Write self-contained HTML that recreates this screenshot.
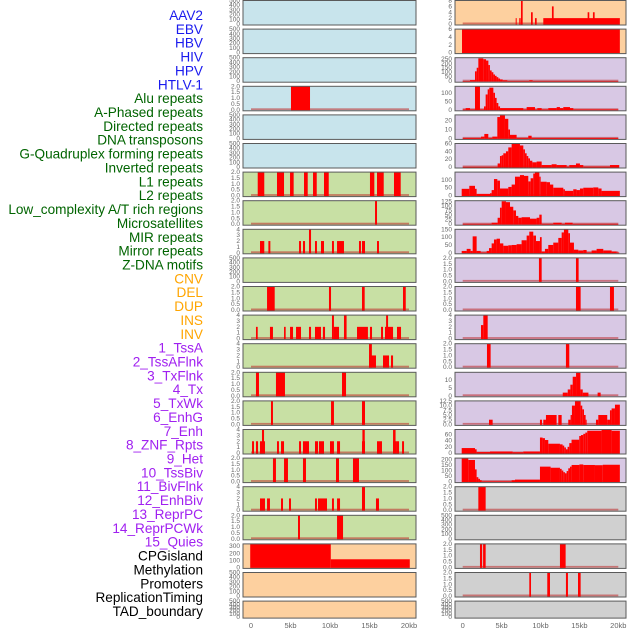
<!DOCTYPE html>
<html><head><meta charset="utf-8"><style>
html,body{margin:0;padding:0;background:#fff;}
svg{display:block;font-family:"Liberation Sans",sans-serif;}
</style></head><body>
<svg id="chart" width="630" height="630" viewBox="0 0 630 630"></svg>
<script>
// ---------- data (kb start, kb end, value) ----------
const leftNames = ["AAV2","EBV","HBV","HIV","HPV","HTLV-1","Alu repeats","A-Phased repeats","Directed repeats","DNA transposons","G-Quadruplex forming repeats","Inverted repeats","L1 repeats","L2 repeats","Low_complexity A/T rich regions","Microsatellites","MIR repeats","Mirror repeats","Z-DNA motifs","CNV","DEL","DUP"];
const rightNames = ["INS","INV","1_TssA","2_TssAFlnk","3_TxFlnk","4_Tx","5_TxWk","6_EnhG","7_Enh","8_ZNF_Rpts","9_Het","10_TssBiv","11_BivFlnk","12_EnhBiv","13_ReprPC","14_ReprPCWk","15_Quies","CPGisland","Methylation","Promoters","ReplicationTiming","TAD_boundary"];
const labelColors = {virus:"#1a1aee",repeat:"#006400",sv:"#ffa500",chrom:"#a020f0",other:"#000000"};
const xTickLabels = ["0","5kb","10kb","15kb","20kb"];
const xTickValues = [0,5,10,15,20];

const HIV = [[5.06,7.47,2]];
const Alu = [[0.85,1.68,2],[3.29,4.18,2],[4.94,5.4,2],[6.71,7.18,2],[7.85,8.32,2],[9.24,9.84,2],[15.06,15.61,2],[15.95,16.8,2],[18.1,18.95,2]];
const APhased = [[15.7,15.95,2]];
const Directed = [[1.14,1.68,2],[2.2,2.45,2],[6.08,6.33,2],[6.58,6.84,2],[7.34,7.6,4],[8.1,8.35,2],[8.86,9.24,2],[10.25,10.5,2],[10.89,11.77,2],[13.67,13.92,2],[14.05,14.43,2],[15.95,16.2,2]];
const GQuad = [[2.03,3.0,2],[9.87,10.13,2],[14.05,14.39,2],[19.24,19.59,2]];
const Inverted = [[0.63,0.85,2],[2.4,2.78,2],[4.18,4.39,2],[4.94,5.32,2],[5.7,6.33,2],[7.34,7.6,2],[8.1,8.86,2],[9.1,9.37,2],[10.25,10.5,4],[10.5,11.14,2],[11.77,12.1,4],[13.42,14.8,2],[15.06,15.32,2],[16.46,16.71,2],[16.96,17.98,2],[17.1,17.35,4],[18.48,18.99,2]];
const L1 = [[14.94,15.82,2],[14.94,15.3,4],[16.71,17.47,2],[17.72,17.98,2]];
const L2 = [[0.63,1.01,2],[3.16,4.3,2],[11.52,12.03,2]];
const LowComplexity = [[2.53,2.78,2],[10.13,10.5,2],[14.05,14.43,2]];
const Micro = [[0.13,0.38,2],[0.63,0.89,2],[1.14,1.77,2],[1.39,1.65,4],[3.29,3.54,2],[3.8,4.18,2],[6.08,6.33,2],[6.58,7.34,2],[8.1,8.48,2],[8.6,9.24,2],[10.0,10.5,2],[10.89,11.27,2],[14.05,14.43,2],[14.1,14.4,4],[15.95,16.58,2],[17.98,18.36,2],[17.98,18.3,4],[18.36,18.74,2],[19.12,19.37,2]];
const MIR = [[2.78,3.16,2],[4.18,4.68,2],[6.58,6.96,2],[10.76,11.14,2],[12.91,13.67,2]];
const Mirror = [[1.14,1.77,2],[2.03,2.4,2],[3.8,4.05,2],[4.81,5.06,2],[8.1,8.35,2],[8.48,9.62,2],[10.25,10.5,2],[10.89,11.27,2],[14.05,14.43,4],[15.82,16.2,2]];
const ZDNA = [[5.95,6.2,2],[10.89,11.65,2]];
const CNV = [[-0.1,10.1,333],[10.1,20.1,115]];

const INS = [[6.81,6.94,2],[7.27,7.45,2],[7.49,7.71,8],[8.78,9.0,4],[9.29,9.51,2],[10.36,20.2,2],[11.47,11.69,6],[16.06,16.27,4],[16.74,16.96,4]];
const INV = [[-0.09,20.2,6]];
const TssA = [[0,0.94,2],[0.94,1.58,12],[1.58,1.8,110],[1.8,2.01,150],[2.01,2.65,255],[2.65,3.0,245],[3.0,3.3,230],[3.3,3.5,180],[3.5,3.72,120],[3.72,3.94,100],[3.94,4.15,75],[4.15,4.36,60],[4.36,4.58,45],[4.58,4.8,30],[4.8,5.14,20],[5.14,5.74,10],[5.74,8.56,2],[8.56,8.99,10],[8.99,20,2]];
const TssAFlnk = [[0,0.38,2],[0.38,0.94,10],[0.94,1.58,2],[1.58,2.22,138],[2.22,2.74,2],[2.74,2.95,20],[2.95,3.21,90],[3.21,3.42,120],[3.42,3.94,130],[3.94,4.15,100],[4.15,4.36,70],[4.36,4.58,40],[4.58,4.8,20],[4.8,7.79,10],[7.79,8.22,2],[8.22,9.29,16],[9.29,9.59,2],[9.59,10.15,10],[10.15,11.0,2],[11.0,12.08,10],[12.08,12.5,16],[12.5,12.93,10],[12.93,13.79,16],[13.79,14.22,10],[14.22,20,2]];
const TxFlnk = [[0,2.35,0.5],[2.35,2.78,2],[2.78,3.29,5],[3.29,3.81,0.5],[3.81,4.45,2],[4.45,4.79,24],[4.79,5.43,26],[5.43,5.86,22],[5.86,6.08,10],[6.08,6.93,4],[6.93,8.43,0.5],[8.43,8.86,3],[8.86,20,0.5]];
const Tx = [[0,4.49,0.5],[4.49,4.79,9],[4.79,5.01,28],[5.01,5.22,30],[5.22,5.56,35],[5.56,5.86,40],[5.86,6.29,50],[6.29,7.36,60],[7.36,7.79,55],[7.79,8.0,45],[8.0,8.22,35],[8.22,8.43,28],[8.43,8.65,22],[8.65,8.95,16],[8.95,9.5,12],[9.5,10.15,14],[10.15,11.43,5],[11.43,12.07,7],[12.07,13.36,5],[13.36,13.7,1],[13.7,14.56,5],[14.56,15.07,9],[15.07,15.5,5],[15.5,18.93,1],[18.93,20.12,5]];
const TxWk = [[-0.13,0.85,43],[0.85,1.58,62],[1.58,1.79,43],[1.79,3.51,11],[3.51,3.72,15],[3.72,4.02,35],[4.02,4.45,105],[4.45,4.79,95],[4.79,5.86,45],[5.86,6.29,55],[6.29,6.72,70],[6.72,7.36,120],[7.36,7.88,130],[7.88,8.43,125],[8.43,8.73,90],[8.73,9.07,110],[9.07,9.29,140],[9.29,9.85,150],[9.85,10.02,120],[10.02,10.79,88],[10.79,11.22,85],[11.22,11.64,70],[11.64,12.93,50],[12.93,13.14,40],[13.14,14.21,30],[14.21,14.64,40],[14.64,15.07,35],[15.07,15.5,45],[15.5,16.78,50],[16.78,17.43,52],[17.43,17.85,45],[17.85,20.2,30]];
const EnhG = [[0,3.72,2],[3.72,4.49,8],[4.49,4.79,35],[4.79,5.01,90],[5.01,5.56,125],[5.56,6.08,120],[6.08,6.5,95],[6.5,6.85,75],[6.85,7.15,45],[7.15,7.57,35],[7.57,8.65,38],[8.65,9.5,30],[9.5,9.85,35],[9.85,10.15,52],[10.15,11.64,2],[11.64,12.72,8],[12.72,13.14,2],[13.14,14.13,8],[14.13,20,2]];
const Enh = [[-0.13,0.51,12],[0.51,1.02,25],[1.02,1.28,12],[1.28,1.79,105],[1.79,2.31,12],[2.31,3.08,2],[3.08,3.38,12],[3.38,3.72,30],[3.72,4.02,60],[4.02,4.36,85],[4.36,4.79,90],[4.79,5.22,60],[5.22,5.86,45],[5.86,6.29,48],[6.29,6.93,50],[6.93,7.57,55],[7.57,8.22,80],[8.22,8.56,110],[8.56,9.07,135],[9.07,9.42,110],[9.42,9.93,75],[9.93,10.15,100],[10.15,10.57,8],[10.57,11.0,25],[11.0,11.64,50],[11.64,12.29,65],[12.29,12.72,95],[12.72,13.01,130],[13.01,13.57,150],[13.57,13.79,125],[13.79,14.3,65],[14.3,14.86,20],[14.86,15.5,15],[15.5,15.93,18],[15.93,16.57,2],[16.57,17.21,15],[17.21,18.07,25],[18.07,19.14,15],[19.14,19.78,8],[19.78,20.12,2]];
const ZNF = [[9.8,10.15,2],[14.56,14.9,2]];
const Het = [[14.56,15.16,2],[18.93,19.44,2]];
const TssBiv = [[2.35,2.65,2.3],[2.65,3.21,4]];
const BivFlnk = [[3.12,3.59,2],[13.27,13.7,2]];
const EnhBiv = [[12.86,13.5,2],[13.5,13.84,4],[13.84,14.14,7],[14.14,14.57,12],[14.57,15.13,14.5],[15.13,15.43,4],[15.43,16.16,2],[17.34,17.73,2]];
const ReprPC = [[3.38,3.85,2.5],[9.93,10.19,2.5],[10.36,10.7,2.5],[10.7,12.07,5],[12.29,12.72,5],[13.57,13.87,2.5],[13.87,14.04,5],[14.04,14.43,10],[14.43,15.16,12.5],[15.16,15.37,10],[15.37,15.59,8],[15.59,15.8,5],[15.8,15.93,2.5],[17.13,17.43,2.5],[17.43,18.58,5],[18.58,18.93,2.5],[18.93,19.14,7.5],[19.14,19.57,8.5],[19.57,20.2,10.5]];
const ReprPCWk = [[-0.13,1.58,16],[1.58,1.79,12],[1.79,3.51,3],[3.51,6.42,5],[6.42,7.79,2.5],[7.79,9.93,5],[9.93,10.27,50],[10.27,10.57,48],[10.57,11.0,42],[11.0,12.5,30],[12.5,12.84,28],[12.84,13.05,24],[13.05,13.27,18],[13.27,13.48,12],[13.48,13.7,20],[13.7,13.99,32],[13.99,14.98,43],[14.98,15.2,55],[15.2,15.5,58],[15.5,15.76,62],[15.76,16.01,66],[16.01,17.85,72],[17.85,19.14,76],[19.14,20.2,72]];
const Quies = [[-0.13,0.72,210],[0.72,1.58,195],[1.58,1.79,110],[1.79,2.01,40],[2.01,2.22,25],[2.22,2.44,12],[2.44,6.29,2],[6.29,6.72,12],[6.72,9.93,18],[9.93,11.3,135],[11.3,12.5,125],[12.5,12.72,115],[12.72,12.93,100],[12.93,13.14,85],[13.14,13.36,75],[13.36,13.57,95],[13.57,13.79,120],[13.79,14.0,135],[14.0,15.0,150],[15.0,15.5,155],[15.5,17.0,150],[17.0,18.0,148],[18.0,20.2,152]];
const CPG = [[2.01,2.95,2]];
const Promoters = [[2.22,2.5,2],[2.62,2.95,2],[12.5,13.23,2]];
const RepTiming = [[8.56,8.78,2],[10.87,11.22,2],[13.27,13.53,2],[14.82,15.16,2]];

const T2 = ["0.0","0.5","1.0","1.5","2.0"], T4 = ["0","1","2","3","4"], T500 = ["0","100","200","300","400","500"];
const BLUE="#c8e4ec", GREEN="#c8e0a4", ORANGE="#fdd09f", PURPLE="#d8c8e4", GREY="#d0d0d0";

// panel specs: [name, bg, ymax, tickValues, tickLabels, data, baseline]
function tk(labels){return labels.map(Number);}
const leftPanels = [
 [BLUE,500,T500,[],0],[BLUE,500,T500,[],0],[BLUE,500,T500,[],0],[BLUE,2,T2,HIV,1],[BLUE,500,T500,[],0],[BLUE,500,T500,[],0],
 [GREEN,2,T2,Alu,1],[GREEN,2,T2,APhased,1],[GREEN,4,T4,Directed,1],[GREEN,500,T500,[],0],[GREEN,2,T2,GQuad,1],[GREEN,4,T4,Inverted,1],
 [GREEN,4,T4,L1,1],[GREEN,2,T2,L2,1],[GREEN,2,T2,LowComplexity,1],[GREEN,4,T4,Micro,1],[GREEN,2,T2,MIR,1],[GREEN,4,T4,Mirror,1],[GREEN,2,T2,ZDNA,1],
 [ORANGE,333,["0","100","200","300"],CNV,0],[ORANGE,500,T500,[],0],[ORANGE,500,T500,[],0]
];
const rightPanels = [
 [ORANGE,8,["0","2","4","6","8"],INS,1],[ORANGE,6,["0","2","4","6"],INV,0],
 [PURPLE,262,["0","50","100","150","200","250"],TssA,1],[PURPLE,138,["0","50","100"],TssAFlnk,1],[PURPLE,26.4,["0","10","20"],TxFlnk,1],
 [PURPLE,60,["0","20","40","60"],Tx,1],[PURPLE,149,["0","50","100"],TxWk,1],[PURPLE,128,["0","25","50","75","100","125"],EnhG,1],
 [PURPLE,150,["0","50","100","150"],Enh,1],[PURPLE,2,T2,ZNF,1],[PURPLE,2,T2,Het,1],[PURPLE,4,T4,TssBiv,1],[PURPLE,2,T2,BivFlnk,1],
 [PURPLE,14.8,["0","5","10"],EnhBiv,1],[PURPLE,12.5,["0.0","2.5","5.0","7.5","10.0","12.5"],ReprPC,1],[PURPLE,76,["0","20","40","60"],ReprPCWk,1],
 [PURPLE,212,["0","50","100","150","200"],Quies,1],
 [GREY,2,T2,CPG,1],[GREY,500,T500,[],0],[GREY,2,T2,Promoters,1],[GREY,2,T2,RepTiming,1],[GREY,500,T500,[],0]
];

// ---------- drawing ----------
const NS="http://www.w3.org/2000/svg";
const svg=document.getElementById("chart");
function mk(tag,attrs,parent){const e=document.createElementNS(NS,tag);for(const k in attrs)e.setAttribute(k,attrs[k]);(parent||svg).appendChild(e);return e;}

const cols = {left:{x0:243,x1:416,k0:251,k20:409,tx:240},right:{x0:455,x1:626,k0:462.7,k20:618.3,tx:452}};
function rowTop(i){return 0.5+28.6*i;}
function rowH(i){return i===21?17:24.5;}

function drawPanel(colKey,i,spec,name){
  const c=cols[colKey];
  const [bg,ymax,ticks,data,base]=spec;
  const top=rowTop(i), h=rowH(i), bottom=top+h-1;
  const xs=kb=>c.k0+(kb/20)*(c.k20-c.k0);
  const ys=v=>bottom-(v/ymax)*(h-1);
  const g=mk("g",{});
  
  
  const r=mk("rect",{x:c.x0,y:top,width:c.x1-c.x0,height:h,fill:bg},g);
  
  
  ticks.forEach(t=>{
    const tt=mk("text",{x:c.tx,y:ys(Number(t))+2,"text-anchor":"end","font-size":"6.5",fill:"#666"},g);
    
    
    tt.textContent=t;
  });
  if(base){
    const b=mk("rect",{x:xs(0),y:bottom-1.5,width:xs(20)-xs(0),height:1.8,fill:"rgba(190,40,40,0.55)"},g);
    
    
  }
  data.forEach(d=>{
    const x1=Math.max(c.x0,xs(d[0])), x2=Math.min(c.x1,xs(d[1]));
    const y=Math.max(top,ys(d[2]));
    const bar=mk("rect",{x:x1,y:y,width:Math.max(0.8,x2-x1),height:bottom-y+0.5,fill:"#ff0000"},g);
    
    
  });
  const br=mk("rect",{x:c.x0,y:top,width:c.x1-c.x0,height:h,fill:"none",stroke:"#5a5a5a","stroke-width":"1"},g);
  
  
}
leftPanels.forEach((p,i)=>drawPanel("left",i,p,leftNames[i]));
rightPanels.forEach((p,i)=>drawPanel("right",i,p,rightNames[i]));

// x axis tick labels
["left","right"].forEach(k=>{
  const c=cols[k];
  xTickValues.forEach((v,j)=>{
    const t=mk("text",{x:c.k0+(v/20)*(c.k20-c.k0),y:628,"text-anchor":"middle","font-size":"7.5",fill:"#666"});
    
    
    t.textContent=xTickLabels[j];
  });
});

// legend labels
const allNames=leftNames.concat(rightNames);
allNames.forEach((n,i)=>{
  let col=labelColors.other;
  if(i<6)col=labelColors.virus;else if(i<19)col=labelColors.repeat;else if(i<24)col=labelColors.sv;else if(i<39)col=labelColors.chrom;
  const t=mk("text",{x:203,y:15+i*13.86+5,"text-anchor":"end","font-size":"13.6",fill:col});
  
  
  t.textContent=n;
});
</script>
</body></html>
